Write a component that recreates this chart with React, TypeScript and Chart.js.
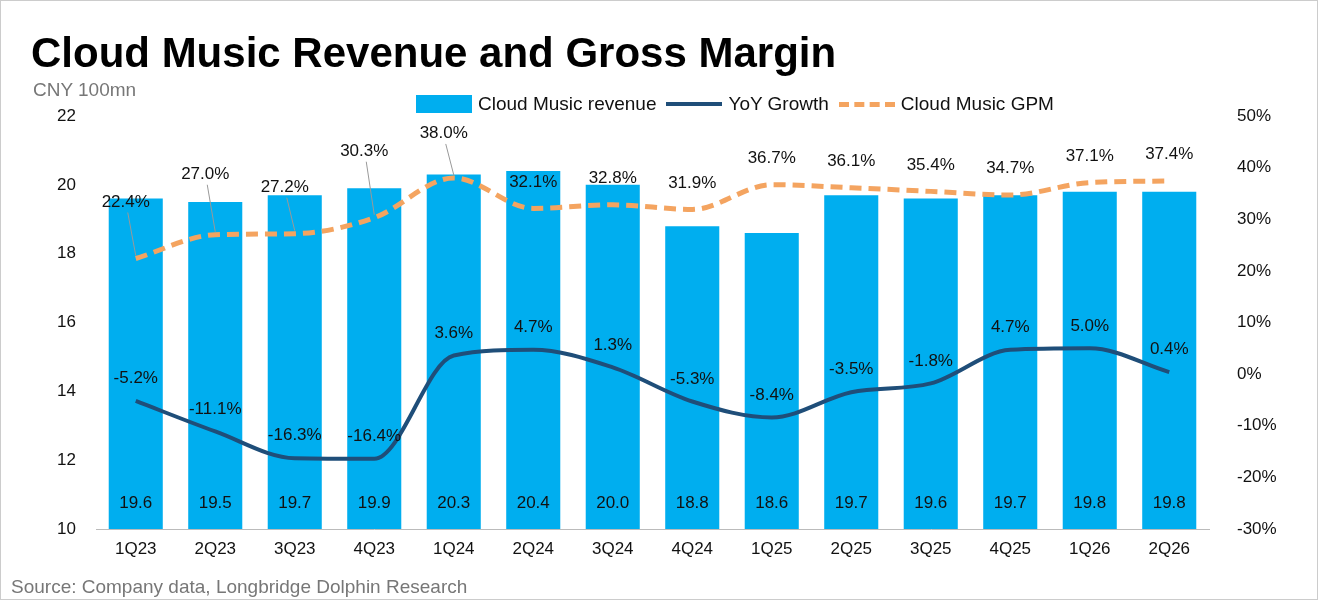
import { useEffect, useRef } from "react";
import Chart from "chart.js/auto";

const quarters = ["1Q23","2Q23","3Q23","4Q23","1Q24","2Q24","3Q24","4Q24","1Q25","2Q25","3Q25","4Q25","1Q26","2Q26"];
const revenue = [19.6,19.5,19.7,19.9,20.3,20.4,20.0,18.8,18.6,19.7,19.6,19.7,19.8,19.8];
const yoyGrowth = [-5.2,-11.1,-16.3,-16.4,3.6,4.7,1.3,-5.3,-8.4,-3.5,-1.8,4.7,5.0,0.4];
const gpm = [22.4,27.0,27.2,30.3,38.0,32.1,32.8,31.9,36.7,36.1,35.4,34.7,37.1,37.4];
// label lift above the GPM line, px (leader lines drawn when large)
const gpmLift = [48, 52, 38, 58, 36, 18, 18, 18, 18, 18, 18, 18, 18, 18];

const FONT = "'Liberation Sans', Arial, sans-serif";

const labelPlugin = {
  id: "labels",
  afterDatasetsDraw(chart: any) {
    const ctx = chart.ctx;
    ctx.save();
    ctx.font = `17px ${FONT}`;
    ctx.fillStyle = "#111";
    ctx.textAlign = "center";
    chart.getDatasetMeta(0).data.forEach((b: any, i: number) => {
      ctx.textBaseline = "middle";
      ctx.fillText(revenue[i].toFixed(1), b.x, chart.chartArea.bottom - 26);
    });
    ctx.textBaseline = "bottom";
    chart.getDatasetMeta(1).data.forEach((p: any, i: number) => {
      ctx.fillText(yoyGrowth[i].toFixed(1) + "%", p.x, p.y - 14);
    });
    chart.getDatasetMeta(2).data.forEach((p: any, i: number) => {
      const lift = gpmLift[i];
      if (lift > 30) {
        ctx.strokeStyle = "#999";
        ctx.lineWidth = 1;
        ctx.beginPath();
        ctx.moveTo(p.x - 8, p.y - lift + 2);
        ctx.lineTo(p.x, p.y - 3);
        ctx.stroke();
      }
      ctx.fillText(gpm[i].toFixed(1) + "%", p.x - (lift > 30 ? 10 : 0), p.y - lift);
    });
    ctx.restore();
  },
};

export default function App() {
  const ref = useRef<HTMLCanvasElement>(null);
  useEffect(() => {
    document.body.style.margin = "0";
    if (!ref.current) return;
    const chart = new Chart(ref.current, {
      type: "bar",
      data: {
        labels: quarters,
        datasets: [
          { type: "bar", label: "Cloud Music revenue", data: revenue, backgroundColor: "#00aeef", yAxisID: "y", categoryPercentage: 1, barPercentage: 0.68, order: 3 },
          { type: "line", label: "YoY Growth", data: yoyGrowth, borderColor: "#1f4e79", borderWidth: 4, pointRadius: 0, cubicInterpolationMode: "monotone", yAxisID: "y1", order: 1 },
          { type: "line", label: "Cloud Music GPM", data: gpm, borderColor: "#f4a460", borderWidth: 5, borderDash: [12, 7], pointRadius: 0, cubicInterpolationMode: "monotone", yAxisID: "y1", order: 2 },
        ] as any,
      },
      options: {
        animation: false,
        responsive: false,
        layout: { padding: { top: 115, bottom: 30 } },
        plugins: { legend: { display: false }, tooltip: { enabled: false } },
        scales: {
          x: {
            grid: { display: false, drawTicks: false },
            border: { color: "#bbb" },
            ticks: { color: "#111", font: { size: 17, family: FONT }, padding: 10 },
            afterFit: (s: any) => { s.height = 40; },
          },
          y: {
            min: 10, max: 22,
            ticks: { stepSize: 2, color: "#111", font: { size: 17, family: FONT }, padding: 12 },
            grid: { display: false },
            border: { display: false },
            afterFit: (s: any) => { s.width = 95; },
          },
          y1: {
            position: "right",
            min: -30, max: 50,
            ticks: { stepSize: 10, color: "#111", font: { size: 17, family: FONT }, callback: (v: any) => v + "%", padding: 20 },
            grid: { display: false },
            border: { display: false },
            afterFit: (s: any) => { s.width = 108; },
          },
        },
      },
      plugins: [labelPlugin],
    });
    return () => chart.destroy();
  }, []);

  const legendItem = (swatch: any, text: string) => (
    <span style={{ display: "inline-flex", alignItems: "center", marginRight: 10 }}>
      {swatch}
      <span style={{ marginLeft: 6 }}>{text}</span>
    </span>
  );

  return (
    <div style={{ position: "relative", width: 1318, height: 600, fontFamily: FONT, background: "#fff", border: "1px solid #ccc", boxSizing: "border-box", overflow: "hidden" }}>
      <canvas ref={ref} width={1316} height={598} style={{ position: "absolute", left: 0, top: 0 }} />
      <div style={{ position: "absolute", left: 30, top: 28, fontSize: 42, fontWeight: "bold", color: "#000" }}>Cloud Music Revenue and Gross Margin</div>
      <div style={{ position: "absolute", left: 32, top: 78, fontSize: 19, color: "#777" }}>CNY 100mn</div>
      <div style={{ position: "absolute", left: 415, top: 92, fontSize: 19, color: "#111", display: "flex" }}>
        {legendItem(<span style={{ width: 56, height: 18, background: "#00aeef", display: "inline-block" }} />, "Cloud Music revenue")}
        {legendItem(<span style={{ width: 56, height: 4, background: "#1f4e79", display: "inline-block" }} />, "YoY Growth")}
        {legendItem(<span style={{ width: 56, height: 0, borderTop: "5px dashed #f4a460", display: "inline-block" }} />, "Cloud Music GPM")}
      </div>
      <div style={{ position: "absolute", left: 10, top: 575, fontSize: 19, color: "#777" }}>Source: Company data, Longbridge Dolphin Research</div>
    </div>
  );
}
